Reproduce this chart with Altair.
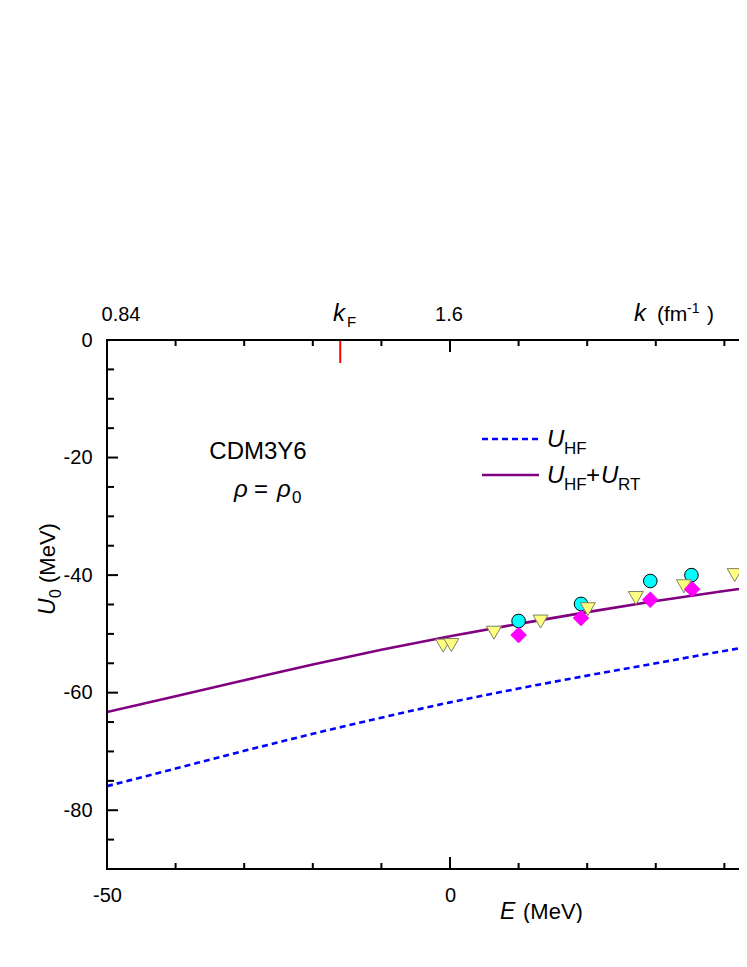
import altair as alt
import pandas as pd

# ---- data ----
E_curve = [-50, -40, -30, -20, -10, 0, 10, 20, 30, 40, 50]
U_hf = [-75.9, -72.9, -69.9, -67.0, -64.25, -61.65, -59.3, -57.1, -55.0, -52.9, -50.9]
U_tot = [-63.3, -60.6, -57.9, -55.2, -52.7, -50.4, -48.3, -46.3, -44.4, -42.7, -41.1]

circ_E = [10.0, 19.1, 29.2, 35.2]
circ_U = [-47.8, -44.9, -41.0, -40.0]
diam_E = [10.0, 19.1, 29.2, 35.3]
diam_U = [-50.2, -47.3, -44.2, -42.4]
tri_E = [-1.0, 0.2, 6.4, 13.2, 20.1, 27.1, 34.1, 41.5]
tri_U = [-52.0, -51.9, -49.8, -47.9, -45.8, -43.9, -41.9, -40.0]

x_major = [0]
x_minor = [-40, -30, -20, -10, 10, 20, 30, 40]
y_major = [-20, -40, -60, -80]
y_minor = [-5, -10, -15, -25, -30, -35, -45, -50, -55, -65, -70, -75, -85]
kF_E = [-16.0]

x_labels = [-50, 0]
y_labels = [0, -20, -40, -60, -80]

FONT = "Liberation Sans"
W, H = 632, 529

xs = alt.Scale(domain=[-50, 42.13], nice=False, zero=False)
ys = alt.Scale(domain=[-90, 0], nice=False, zero=False)
xaxis = alt.Axis(values=x_labels, domain=False, ticks=False, tickSize=0, grid=False,
                 labelFontSize=20, labelFont=FONT, labelColor="black", labelPadding=16,
                 labelExpr="'' + datum.value", title=None, labelFlush=False, labelOverlap=False)
yaxis = alt.Axis(values=y_labels, domain=False, ticks=False, tickSize=0, grid=False,
                 labelFontSize=20, labelFont=FONT, labelColor="black", labelPadding=15,
                 labelExpr="'' + datum.value", title=None, labelFlush=False, labelOverlap=False)


def X(field="E"):
    return alt.X(f"{field}:Q", scale=xs, axis=xaxis)


def Y(field="U"):
    return alt.Y(f"{field}:Q", scale=ys, axis=yaxis)


df_hf = pd.DataFrame({"E": E_curve, "U": U_hf})
df_tot = pd.DataFrame({"E": E_curve, "U": U_tot})
df_c = pd.DataFrame({"E": circ_E, "U": circ_U})
df_d = pd.DataFrame({"E": diam_E, "U": diam_U})
df_t = pd.DataFrame({"E": tri_E, "U": tri_U})
one = pd.DataFrame({"a": [0]})

layers = []
layers.append(alt.Chart(df_hf).mark_line(color="#0000FF", strokeWidth=2.6, strokeDash=[6, 4],
                                         interpolate="monotone", clip=True)
              .encode(x=X(), y=Y()))
layers.append(alt.Chart(df_tot).mark_line(color="#800080", strokeWidth=2.6,
                                          interpolate="monotone", clip=True)
              .encode(x=X(), y=Y()))
layers.append(alt.Chart(df_c).mark_point(shape="circle", size=185, filled=True, fill="#00FFFF",
                                         stroke="#000000", strokeWidth=1, opacity=1)
              .encode(x=X(), y=Y()))
layers.append(alt.Chart(df_t).mark_point(shape="triangle-down", size=225, filled=True, fill="#FFFF80",
                                         stroke="#808060", strokeWidth=1, opacity=1)
              .encode(x=X(), y=Y()))
layers.append(alt.Chart(df_d).mark_point(shape="diamond", size=256, filled=True, fill="#FF00FF",
                                         stroke="#E000E0", strokeWidth=0.5, opacity=1)
              .encode(x=X(), y=Y()))

# frame (left, top, bottom) - right side is cut off in the reference
frame_style = dict(color="black", strokeWidth=2, strokeCap="square")
layers.append(alt.Chart(one).mark_rule(**frame_style).encode(x=alt.value(0), y=alt.value(0), y2=alt.value(H)))
layers.append(alt.Chart(one).mark_rule(**frame_style).encode(x=alt.value(0), x2=alt.value(W + 2), y=alt.value(0)))
layers.append(alt.Chart(one).mark_rule(**frame_style).encode(x=alt.value(0), x2=alt.value(W + 2), y=alt.value(H)))

# inward ticks
tick_style = dict(color="black", strokeWidth=2)
dxM = pd.DataFrame({"E": x_major})
dxm = pd.DataFrame({"E": x_minor})
dyM = pd.DataFrame({"U": y_major})
dym = pd.DataFrame({"U": y_minor})
layers.append(alt.Chart(dxM).mark_rule(**tick_style).encode(x=X(), y=alt.value(H), y2=alt.value(H - 12)))
layers.append(alt.Chart(dxm).mark_rule(**tick_style).encode(x=X(), y=alt.value(H), y2=alt.value(H - 6)))
layers.append(alt.Chart(dxM).mark_rule(**tick_style).encode(x=X(), y=alt.value(0), y2=alt.value(12)))
layers.append(alt.Chart(dxm).mark_rule(**tick_style).encode(x=X(), y=alt.value(0), y2=alt.value(6)))
layers.append(alt.Chart(dyM).mark_rule(**tick_style).encode(y=Y(), x=alt.value(0), x2=alt.value(11)))
layers.append(alt.Chart(dym).mark_rule(**tick_style).encode(y=Y(), x=alt.value(0), x2=alt.value(7)))
layers.append(alt.Chart(pd.DataFrame({"E": kF_E})).mark_rule(color="#FF0000", strokeWidth=2)
              .encode(x=X(), y=alt.value(1), y2=alt.value(23)))


def txt(s, x, y, size, italic=False, align="left", angle=0):
    return alt.Chart(one).mark_text(text=s, fontSize=size, font=FONT,
                                    fontStyle="italic" if italic else "normal",
                                    align=align, baseline="alphabetic", angle=angle,
                                    color="black").encode(x=alt.value(x), y=alt.value(y))


# top axis labels
layers += [
    txt("0.84", 14, -19, 20, align="center"),
    txt("1.6", 342, -19, 20, align="center"),
    txt("k", 226, -19, 24, italic=True),
    txt("F", 240, -13, 15),
    txt("k", 527, -19, 24, italic=True),
    txt("(fm", 550, -19, 21),
    txt("-1", 580, -27, 14),
    txt(")", 600, -19, 21),
]
# x title
layers += [
    txt("E", 393, 579, 23, italic=True),
    txt("(MeV)", 416, 579, 22),
]
# y title (rotated)
layers += [
    txt("U", -52, 275, 23, italic=True, angle=270),
    txt("0", -46, 258, 16, angle=270),
    txt("(MeV)", -52, 243, 22, angle=270),
]
# annotation
layers += [
    txt("CDM3Y6", 151, 119, 24, align="center"),
    txt("ρ", 127, 157, 24, italic=True),
    txt("=", 147, 157, 24),
    txt("ρ", 170, 157, 24, italic=True),
    txt("0", 185, 163, 17),
]
# legend
layers.append(alt.Chart(one).mark_rule(color="#0000FF", strokeWidth=2.6, strokeDash=[6, 4])
              .encode(x=alt.value(375), x2=alt.value(431), y=alt.value(99)))
layers.append(alt.Chart(one).mark_rule(color="#800080", strokeWidth=2.6)
              .encode(x=alt.value(375), x2=alt.value(432), y=alt.value(135)))
layers += [
    txt("U", 440, 107, 24, italic=True),
    txt("HF", 457, 114, 17),
    txt("U", 440, 143, 24, italic=True),
    txt("HF", 457, 150, 17),
    txt("+", 479, 143, 24),
    txt("U", 494, 143, 24, italic=True),
    txt("RT", 511, 150, 17),
]

chart = alt.layer(*layers).properties(
    width=W, height=H,
    padding={"left": 99, "top": 332, "right": 0, "bottom": 54},
    autosize=alt.AutoSizeParams(type="none"),
).configure_view(stroke=None).configure(background="white")

chart.save("out.html", embed_options={"renderer": "svg", "actions": False})
